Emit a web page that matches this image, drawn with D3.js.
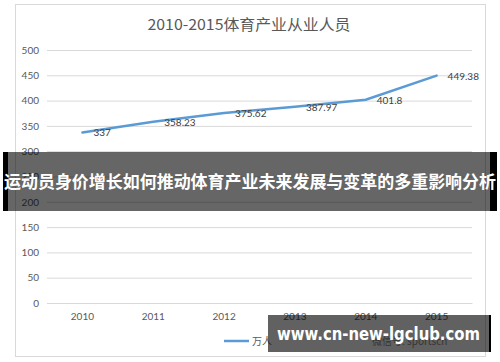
<!DOCTYPE html>
<html><head><meta charset="utf-8">
<script src="https://cdn.jsdelivr.net/npm/d3@7/dist/d3.min.js"></script>
<style>body{margin:0;background:#fff}svg{display:block}</style>
</head><body>
<script>
const years = ["2010","2011","2012","2013","2014","2015"];
const values = [337, 358.23, 375.62, 387.97, 401.8, 449.38];
const valueLabels = ["337","358.23","375.62","387.97","401.8","449.38"];
const yTicks = [0,50,100,150,200,250,300,350,400,450,500];
const title = "2010-2015体育产业从业人员";
const seriesName = "万人";
const sourceText = "微信号: sportscn";
const bannerText = "运动员身价增长如何推动体育产业未来发展与变革的多重影响分析";
const urlText = "www.cn-new-lgclub.com";

const W = 500, H = 362;
const svg = d3.select("body").append("svg").attr("width", W).attr("height", H);
const numFont = "Lato, 'Liberation Sans', sans-serif";

svg.append("rect").attr("x", 15.5).attr("y", 4.5).attr("width", 470).attr("height", 352)
  .attr("fill", "#fff").attr("stroke", "#d9d9d9");

svg.append("text").attr("x", 249).attr("y", 30).attr("text-anchor", "middle")
  .attr("font-family", "'Noto Sans CJK SC', Lato, sans-serif").attr("font-size", 15)
  .attr("fill", "#595959").attr("textLength", 203).attr("lengthAdjust", "spacingAndGlyphs").text(title);

const x = d3.scaleBand().domain(years).range([47, 472]);
const y = d3.scaleLinear().domain([0, 500]).range([303, 50]);

const yAxis = svg.append("g").attr("transform", "translate(47,0)")
  .call(d3.axisLeft(y).tickValues(yTicks).tickSize(-425).tickPadding(8));
yAxis.select(".domain").remove();
yAxis.selectAll("line").attr("stroke", "#d9d9d9");
yAxis.selectAll("text").attr("font-family", numFont).attr("font-size", 10).attr("fill", "#595959");

const xAxis = svg.append("g").attr("transform", "translate(0,303)")
  .call(d3.axisBottom(x).tickSize(0).tickPadding(10));
xAxis.select(".domain").attr("stroke", "#d9d9d9");
xAxis.selectAll("text").attr("font-family", numFont).attr("font-size", 10).attr("fill", "#595959");

const pts = years.map((yr, i) => [x(yr) + x.bandwidth() / 2, y(values[i])]);
svg.append("path").attr("d", d3.line()(pts)).attr("fill", "none")
  .attr("stroke", "#5b9bd5").attr("stroke-width", 2.5).attr("stroke-linecap", "round");

svg.selectAll(".lbl").data(pts).enter().append("text")
  .attr("x", d => d[0] + 11).attr("y", d => d[1] + 4)
  .attr("font-family", numFont).attr("font-size", 10).attr("fill", "#404040")
  .text((d, i) => valueLabels[i]);

// legend
svg.append("line").attr("x1", 224).attr("x2", 249).attr("y1", 341).attr("y2", 341)
  .attr("stroke", "#5b9bd5").attr("stroke-width", 2.5);
svg.append("text").attr("x", 252).attr("y", 345).attr("font-family", "'Noto Sans CJK SC', sans-serif")
  .attr("font-size", 10).attr("fill", "#595959").text(seriesName);
svg.append("text").attr("x", 372).attr("y", 345).attr("font-family", "'Noto Sans CJK SC', sans-serif")
  .attr("font-size", 10).attr("fill", "#8c8c8c").text(sourceText);

// overlay banner
svg.append("rect").attr("x", 3).attr("y", 152).attr("width", 494).attr("height", 59)
  .attr("fill", "#000").attr("fill-opacity", 0.6);
svg.append("rect").attr("x", 3).attr("y", 152).attr("width", 5).attr("height", 59).attr("fill", "#000");
svg.append("rect").attr("x", 490).attr("y", 152).attr("width", 7).attr("height", 59).attr("fill", "#000");
svg.append("text").attr("x", 250).attr("y", 188).attr("text-anchor", "middle")
  .attr("font-family", "'Noto Sans CJK SC', sans-serif").attr("font-weight", "bold")
  .attr("font-size", 17).attr("fill", "#fff")
  .attr("textLength", 492).attr("lengthAdjust", "spacingAndGlyphs").text(bannerText);

// url banner
svg.append("rect").attr("x", 268).attr("y", 315).attr("width", 222).attr("height", 37)
  .attr("fill", "#000").attr("fill-opacity", 0.62);
svg.append("rect").attr("x", 489).attr("y", 315).attr("width", 2).attr("height", 37).attr("fill", "#000");
svg.append("text").attr("x", 277).attr("y", 340)
  .attr("font-family", "'DejaVu Sans', sans-serif").attr("font-weight", "bold")
  .attr("font-size", 17).attr("fill", "#fff")
  .attr("textLength", 203).attr("lengthAdjust", "spacingAndGlyphs").text(urlText);
</script>
</body></html>
